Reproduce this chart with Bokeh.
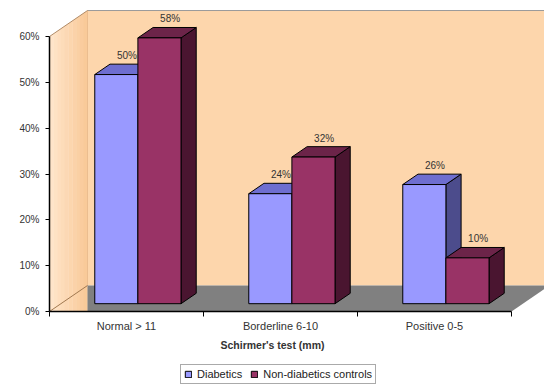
from bokeh.plotting import figure
from bokeh.layouts import column
from bokeh.models import (Range1d, LinearAxis, FixedTicker, PrintfTickFormatter,
                          Legend, LegendItem, ColumnDataSource, Label)
from bokeh.core.properties import value
from bokeh.embed import file_html
from bokeh.resources import INLINE

# ---------------- data ----------------
categories = ["Normal > 11", "Borderline 6-10", "Positive 0-5"]
diabetics = [50, 24, 26]
controls = [58, 32, 10]
series_names = ["Diabetics", "Non-diabetics controls"]
y_ticks = [0, 10, 20, 30, 40, 50, 60]
axis_title = "Schirmer's test (mm)"

# ---------------- style / geometry ----------------
FONT = value("Liberation Sans")
W, H = 544, 390
H1 = 336                      # main figure height
LEG_H = H - H1                # strip with axis title + legend
LEFT, TOP, BOTTOM_PANEL = 49, 8, 25
PX_PER_CAT = 154.0
PX_PER_PCT = 4.583
frame_w = W - LEFT
frame_h = H1 - TOP - BOTTOM_PANEL
X0 = -0.5
X_END = X0 + frame_w / PX_PER_CAT
Y_END = frame_h / PX_PER_PCT
Y_MAX = y_ticks[-1]
WDX = 38 / PX_PER_CAT         # wall depth in data units
WDY = 26 / PX_PER_PCT
D0, D1 = 0.3, 0.7             # bar depth fractions
BW = 0.28                     # bar width (category units)

face_colors = [("#9999FF", "#6E6ED0", "#4C4C8C"),
               ("#993366", "#6C2449", "#4A1530")]

p = figure(width=W, height=H1, output_backend="svg", toolbar_location=None,
           x_range=Range1d(X0, X_END), y_range=Range1d(0, Y_END),
           x_axis_type=None, y_axis_type=None,
           min_border_left=LEFT, min_border_right=0, min_border_top=TOP,
           min_border_bottom=BOTTOM_PANEL)
p.outline_line_color = None
p.background_fill_color = "white"
p.border_fill_color = "white"

n = len(categories)
x_lo = X0
x_hi = X0 + n

# back wall
p.quad(left=[x_lo + WDX], right=[X_END + 1], bottom=[WDY], top=[Y_MAX + WDY],
       fill_color="#FDD6AC", line_color=None)
p.line(x=[x_lo + WDX, X_END + 1], y=[Y_MAX + WDY, Y_MAX + WDY], line_color="#9A9A9A", line_width=1)
p.line(x=[x_lo + WDX, x_lo + WDX], y=[WDY, Y_MAX + WDY], line_color="#B08A66", line_width=1)

# side wall (gradient strips)
def lerp_col(c0, c1, t):
    a = [int(c0[i:i + 2], 16) for i in (1, 3, 5)]
    b = [int(c1[i:i + 2], 16) for i in (1, 3, 5)]
    return "#%02X%02X%02X" % tuple(round(a[k] + (b[k] - a[k]) * t) for k in range(3))

NS = 10
sxs, sys_, scs = [], [], []
for i in range(NS):
    f0, f1 = i / NS, (i + 1) / NS
    sxs.append([x_lo + f0 * WDX, x_lo + f1 * WDX + 0.002, x_lo + f1 * WDX + 0.002, x_lo + f0 * WDX])
    sys_.append([0, 0, Y_MAX + f1 * WDY, Y_MAX + f0 * WDY])
    scs.append(lerp_col("#FFE6CC", "#F9C896", (i + 0.5) / NS))
p.patches(xs=sxs, ys=sys_, fill_color=scs, line_color=None)
p.line(x=[x_lo, x_lo + WDX], y=[Y_MAX, Y_MAX + WDY], line_color="#B08A66", line_width=1)

# floor
p.patch(x=[x_lo + WDX, x_hi, x_hi + WDX, x_lo + WDX], y=[0, 0, WDY, WDY],
        fill_color="#808080", line_color=None)
p.line(x=[x_lo, x_lo + WDX], y=[0, WDY], line_color="#A07850", line_width=1)

# bars
LABEL_DEPTH = 0.58
for s, vals in enumerate([diabetics, controls]):
    fc, tc, sc = face_colors[s]
    lefts, rights, tops, bots = [], [], [], []
    top_x, top_y, side_x, side_y = [], [], [], []
    lab_x, lab_y, lab_t = [], [], []
    for i, v in enumerate(vals):
        xa = i - BW if s == 0 else i
        xb = xa + BW
        lefts.append(xa + D0 * WDX)
        rights.append(xb + D0 * WDX)
        bots.append(D0 * WDY)
        tops.append(v + D0 * WDY)
        top_x.append([xa + D0 * WDX, xb + D0 * WDX, xb + D1 * WDX, xa + D1 * WDX])
        top_y.append([v + D0 * WDY, v + D0 * WDY, v + D1 * WDY, v + D1 * WDY])
        side_x.append([xb + D0 * WDX, xb + D1 * WDX, xb + D1 * WDX, xb + D0 * WDX])
        side_y.append([D0 * WDY, D1 * WDY, v + D1 * WDY, v + D0 * WDY])
        lab_x.append((xa + xb) / 2 + LABEL_DEPTH * WDX)
        lab_y.append(v + D1 * WDY)
        lab_t.append("%d%%" % v)
    p.patches(xs=side_x, ys=side_y, fill_color=sc, line_color="black", line_width=1)
    p.patches(xs=top_x, ys=top_y, fill_color=tc, line_color="black", line_width=1)
    p.quad(left=lefts, right=rights, bottom=bots, top=tops,
           fill_color=fc, line_color="black", line_width=1)
    src = ColumnDataSource(dict(x=lab_x, y=lab_y, t=lab_t))
    p.text(x="x", y="y", text="t", source=src, text_font=FONT, text_font_size="10px",
           text_color="#333333", text_align="center", text_baseline="bottom", y_offset=-3)

# y axis
yaxis = LinearAxis(ticker=FixedTicker(ticks=y_ticks, minor_ticks=[]),
                   formatter=PrintfTickFormatter(format="%d%%"), bounds=(0, Y_MAX))
yaxis.axis_line_color = "black"
yaxis.axis_line_width = 1.5
yaxis.major_tick_in = 0
yaxis.major_tick_out = 4
yaxis.major_tick_line_color = "black"
yaxis.minor_tick_line_color = None
yaxis.major_label_standoff = 6
yaxis.major_label_text_font = "Liberation Sans"
yaxis.major_label_text_font_size = "10px"
yaxis.major_label_text_color = "#333333"
p.add_layout(yaxis, "left")

# x axis
xaxis = LinearAxis(ticker=FixedTicker(ticks=list(range(n)),
                                      minor_ticks=[X0 + k for k in range(n + 1)]),
                   bounds=(x_lo, x_hi))
xaxis.major_label_overrides = {i: categories[i] for i in range(n)}
xaxis.axis_line_color = "black"
xaxis.axis_line_width = 1.5
xaxis.major_tick_in = 0
xaxis.major_tick_out = 4
xaxis.major_tick_line_color = None
xaxis.minor_tick_in = 0
xaxis.minor_tick_out = 5
xaxis.minor_tick_line_color = "black"
xaxis.major_label_standoff = 3
xaxis.major_label_text_font = "Liberation Sans"
xaxis.major_label_text_font_size = "11px"
xaxis.major_label_text_color = "#333333"
p.add_layout(xaxis, "below")

# strip beneath: axis title + legend (frame is aligned with the main frame: starts at x=49)
q = figure(width=W, height=LEG_H, output_backend="svg", toolbar_location=None,
           x_range=Range1d(0, 1), y_range=Range1d(0, 1),
           x_axis_type=None, y_axis_type=None,
           min_border_left=0, min_border_right=0, min_border_top=0, min_border_bottom=0)
q.outline_line_color = None
q.background_fill_color = "white"
q.border_fill_color = "white"

q.add_layout(Label(x=223, y=LEG_H - 8, x_units="screen", y_units="screen",
                   text=axis_title, text_font="Liberation Sans", text_font_size="10.5px",
                   text_font_style="bold", text_color="#333333",
                   text_align="center", text_baseline="middle"))

items = []
for s in range(2):
    r = q.quad(left=[5], right=[6], bottom=[5], top=[6], fill_color=face_colors[s][0],
               line_color="black", line_width=1)
    items.append(LegendItem(label=series_names[s], renderers=[r]))
legend = Legend(items=items, orientation="horizontal", location=(131, 6))
legend.border_line_color = "#555555"
legend.border_line_width = 1
legend.background_fill_color = "white"
legend.padding = 3
legend.margin = 0
legend.spacing = 8
legend.label_standoff = 5
legend.glyph_width = 8
legend.glyph_height = 8
legend.label_height = 10
legend.label_text_font = "Liberation Sans"
legend.label_text_font_size = "11px"
legend.label_text_color = "#222222"
q.add_layout(legend)

layout = column(p, q, spacing=0)
open("out.html", "w").write(file_html(layout, INLINE))
